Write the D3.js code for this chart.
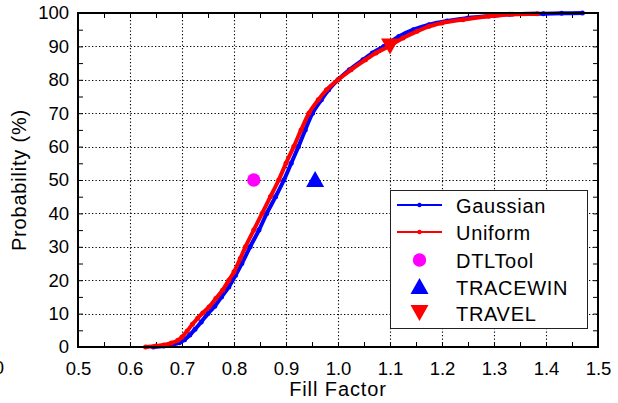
<!DOCTYPE html>
<html>
<head>
<meta charset="utf-8">
<script src="https://cdn.jsdelivr.net/npm/d3@7"></script>
<style>
  html, body { margin: 0; padding: 0; background: #fff; }
  svg { display: block; font-family: "Liberation Sans", Arial, Helvetica, sans-serif; }
</style>
</head>
<body>
<svg id="chart" width="618" height="403"></svg>
<script>
// Cumulative distribution of the fill factor for two input distributions
const gaussianFF   = [0.645, 0.665, 0.680, 0.695, 0.705, 0.715, 0.725, 0.737, 0.750, 0.763, 0.776, 0.790, 0.803, 0.815, 0.831, 0.848, 0.863, 0.880, 0.896, 0.910, 0.924, 0.937, 0.951, 0.968, 0.982, 1.000, 1.022, 1.048, 1.066, 1.088, 1.117, 1.145, 1.175, 1.210, 1.250, 1.300, 1.330, 1.395, 1.430, 1.470];
const gaussianProb = [0.0, 0.3, 0.7, 1.3, 2.2, 3.6, 5.3, 7.5, 10.0, 12.2, 15.0, 18.0, 21.5, 25.0, 30.0, 35.0, 40.0, 45.0, 50.0, 55.0, 60.0, 65.0, 70.0, 74.0, 77.0, 80.0, 83.0, 86.0, 88.0, 90.0, 93.0, 95.0, 96.5, 97.6, 98.5, 99.2, 99.6, 99.8, 99.9, 100.0];

const uniformFF    = [0.630, 0.650, 0.665, 0.680, 0.692, 0.700, 0.710, 0.720, 0.730, 0.740, 0.752, 0.765, 0.778, 0.790, 0.800, 0.812, 0.822, 0.838, 0.854, 0.870, 0.886, 0.900, 0.915, 0.929, 0.944, 0.962, 0.978, 1.000, 1.025, 1.053, 1.073, 1.097, 1.125, 1.152, 1.175, 1.200, 1.240, 1.290, 1.335, 1.383];
const uniformProb  = [0.0, 0.3, 0.6, 1.2, 2.0, 3.0, 4.8, 6.8, 8.6, 10.2, 12.0, 14.5, 17.0, 20.0, 22.5, 26.5, 30.0, 35.0, 40.0, 45.0, 50.0, 55.0, 60.0, 65.0, 70.0, 74.0, 77.0, 80.0, 83.0, 86.0, 88.0, 90.0, 92.5, 94.5, 96.0, 97.0, 98.0, 99.0, 99.6, 99.8];

// Single-value results from the three codes
const codeNames = ["DTLTool", "TRACEWIN", "TRAVEL"];
const codeFF    = [0.838, 0.956, 1.100];
const codeProb  = [50, 50, 90];

const xTicks = [0.5, 0.6, 0.7, 0.8, 0.9, 1.0, 1.1, 1.2, 1.3, 1.4, 1.5];
const yTicks = [0, 10, 20, 30, 40, 50, 60, 70, 80, 90, 100];
const seriesNames = ["Gaussian", "Uniform"];

const margin = { left: 78, top: 13, right: 20, bottom: 56 };
const W = 618, H = 403;
const iw = W - margin.left - margin.right;   // 520
const ih = H - margin.top - margin.bottom;   // 334

const svg = d3.select("#chart");
const g = svg.append("g").attr("transform", `translate(${margin.left},${margin.top})`);

const x = d3.scaleLinear().domain([0.5, 1.5]).range([0, iw]);
const y = d3.scaleLinear().domain([0, 100]).range([ih, 0]);

const xMinor = d3.range(0.5, 1.5001, 0.05);
const yMinor = d3.range(0, 100.01, 5);

// dotted grid at the major ticks
const grid = g.append("g").attr("stroke", "#000").attr("stroke-width", 1.1)
  .attr("stroke-dasharray", "1.3,2.2");
grid.selectAll(".gx").data(xTicks.slice(1, -1)).join("line")
  .attr("x1", d => Math.round(x(d)) + 0.5).attr("x2", d => Math.round(x(d)) + 0.5)
  .attr("y1", 0).attr("y2", ih);
grid.selectAll(".gy").data(yTicks.slice(1, -1)).join("line")
  .attr("y1", d => Math.round(y(d)) + 0.5).attr("y2", d => Math.round(y(d)) + 0.5)
  .attr("x1", 0).attr("x2", iw);

// inward ticks on all four sides
function tickAxis(axis, transform) {
  const a = g.append("g").attr("transform", transform).call(axis);
  a.select(".domain").remove();
  a.selectAll("line").attr("stroke", "#000").attr("stroke-width", 1);
  a.selectAll("text").remove();
}
tickAxis(d3.axisBottom(x).tickValues(xMinor).tickSize(-5), `translate(0,${ih})`);
tickAxis(d3.axisTop(x).tickValues(xMinor).tickSize(-5), `translate(0,0)`);
tickAxis(d3.axisLeft(y).tickValues(yMinor).tickSize(-5), `translate(0,0)`);
tickAxis(d3.axisRight(y).tickValues(yMinor).tickSize(-5), `translate(${iw},0)`);

// tick labels
const xl = g.append("g").attr("transform", `translate(0,${ih})`)
  .call(d3.axisBottom(x).tickValues(xTicks).tickFormat(d3.format(".1f")).tickSize(0).tickPadding(10));
xl.select(".domain").remove();
xl.selectAll("text").attr("font-size", 18.5).attr("font-family", "Liberation Sans, Arial, sans-serif")
  .attr("fill", "#000").attr("dy", "0.71em").attr("y", 14.5);

const yl = g.append("g")
  .call(d3.axisLeft(y).tickValues(yTicks).tickFormat(d3.format("d")).tickSize(0).tickPadding(9));
yl.select(".domain").remove();
yl.selectAll("text").attr("font-size", 18.5).attr("font-family", "Liberation Sans, Arial, sans-serif")
  .attr("fill", "#000");

// axis titles
svg.append("text").attr("x", margin.left + iw / 2).attr("y", 396)
  .attr("text-anchor", "middle").attr("font-size", 20).attr("letter-spacing", 0.9)
  .text("Fill Factor");
svg.append("text").attr("transform", `translate(26,${margin.top + ih / 2}) rotate(-90)`)
  .attr("text-anchor", "middle").attr("font-size", 20).attr("letter-spacing", 0.8)
  .text("Probability (%)");
svg.append("text").attr("x", 4).attr("y", 374).attr("text-anchor", "end")
  .attr("font-size", 18.5).text("0");

// CDF curves
const curves = [
  { name: seriesNames[0], xs: gaussianFF, ys: gaussianProb, color: "#0000ff" },
  { name: seriesNames[1], xs: uniformFF, ys: uniformProb, color: "#ff0000" }
];
const line = d3.line().x(d => x(d[0])).y(d => y(d[1])).curve(d3.curveMonotoneX);
curves.forEach(c => {
  const pts = c.xs.map((v, i) => [v, c.ys[i]]);
  g.append("path").datum(pts).attr("d", line)
    .attr("fill", "none").attr("stroke", c.color).attr("stroke-width", 4)
    .attr("stroke-linejoin", "round").attr("stroke-linecap", "round");
  g.append("g").selectAll("circle").data(pts).join("circle")
    .attr("cx", d => x(d[0])).attr("cy", d => y(d[1])).attr("r", 2.5)
    .attr("fill", c.color);
});

// marker shapes
function markerPath(kind, cx, cy) {
  if (kind === "up")   return `M${cx - 9},${cy + 7}L${cx + 9},${cy + 7}L${cx},${cy - 9}Z`;
  if (kind === "down") return `M${cx - 9},${cy - 8}L${cx + 9},${cy - 8}L${cx},${cy + 8}Z`;
  return null;
}
const codeStyle = [
  { kind: "circle", color: "#ff00ff" },
  { kind: "up", color: "#0000ff" },
  { kind: "down", color: "#ff0000" }
];
function drawMarker(sel, kind, color, cx, cy) {
  if (kind === "circle") {
    sel.append("circle").attr("cx", cx).attr("cy", cy).attr("r", 6.7).attr("fill", color);
  } else {
    sel.append("path").attr("d", markerPath(kind, cx, cy)).attr("fill", color);
  }
}
codeNames.forEach((n, i) => {
  drawMarker(g, codeStyle[i].kind, codeStyle[i].color, x(codeFF[i]), y(codeProb[i]));
});

// plot frame
g.append("rect").attr("x", 0).attr("y", 0).attr("width", iw).attr("height", ih)
  .attr("fill", "none").attr("stroke", "#000").attr("stroke-width", 2);

// legend
const lg = svg.append("g").attr("transform", "translate(390,190)");
lg.append("rect").attr("x", 0.5).attr("y", 0.5).attr("width", 197).attr("height", 138)
  .attr("fill", "#fff").attr("stroke", "#222").attr("stroke-width", 1);
const rowY = [15, 42, 70, 97, 123];
curves.forEach((c, i) => {
  lg.append("line").attr("x1", 7).attr("x2", 52).attr("y1", rowY[i]).attr("y2", rowY[i])
    .attr("stroke", c.color).attr("stroke-width", 2);
  lg.append("circle").attr("cx", 29.5).attr("cy", rowY[i]).attr("r", 2.2).attr("fill", c.color);
});
codeNames.forEach((n, i) => {
  drawMarker(lg, codeStyle[i].kind, codeStyle[i].color, 29.5, rowY[i + 2]);
});
const legendNames = seriesNames.concat(codeNames);
legendNames.forEach((n, i) => {
  lg.append("text").attr("x", 66).attr("y", rowY[i] + 7.5)
    .attr("font-size", 20).attr("letter-spacing", 0.7).text(n);
});
</script>
</body>
</html>
